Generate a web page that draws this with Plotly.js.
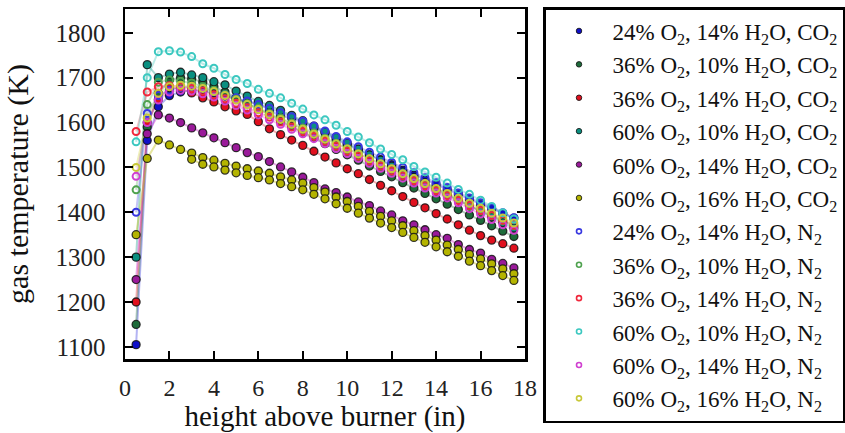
<!DOCTYPE html>
<html>
<head>
<meta charset="utf-8">
<script src="https://cdn.plot.ly/plotly-3.0.1.min.js"></script>
<style>html,body{margin:0;padding:0;background:#fff;} #chart{width:845px;height:433px;}</style>
</head>
<body>
<div id="chart"></div>
<script>
// heights above burner (in)
const height = [0.5,1,1.5,2,2.5,3,3.5,4,4.5,5,5.5,6,6.5,7,7.5,8,8.5,9,9.5,10,10.5,11,11.5,12,12.5,13,13.5,14,14.5,15,15.5,16,16.5,17,17.5];
const heightRepeat = [3,3.5,4,4.5,5,5.5,6,6.5,7,7.5,8,8.5,9,9.5,10,10.5,11,11.5,12,12.5,13,13.5,14,14.5,15,15.5,16,16.5,17,17.5];

// gas temperature (K), CO2 diluent (filled)
const co2_24_14 = [1105,1560,1635,1660,1668,1672,1670,1666,1659,1652,1647,1642,1628,1614,1610,1599,1588,1577,1562,1550,1539,1528,1517,1506,1494,1483,1472,1461,1450,1440,1429,1418,1408,1397,1387];
const co2_36_10 = [1150,1590,1665,1695,1700,1697,1690,1680,1668,1655,1643,1630,1618,1604,1591,1578,1566,1553,1540,1528,1516,1503,1491,1479,1466,1454,1442,1430,1418,1406,1394,1382,1370,1358,1346];
const co2_36_14 = [1200,1600,1651,1678,1676,1666,1655,1646,1635,1626,1618,1602,1586,1573,1561,1549,1536,1523,1510,1497,1486,1473,1460,1448,1435,1422,1410,1397,1385,1372,1360,1348,1338,1330,1320];
const co2_60_10 = [1300,1729,1700,1708,1712,1706,1700,1691,1684,1670,1659,1647,1638,1627,1616,1604,1592,1579,1567,1554,1541,1528,1516,1503,1490,1478,1466,1453,1440,1428,1415,1402,1390,1377,1365];
const co2_60_14 = [1250,1575,1617,1610,1600,1588,1577,1566,1555,1544,1533,1524,1513,1501,1490,1478,1466,1452,1444,1434,1423,1415,1403,1394,1381,1372,1361,1350,1342,1328,1317,1309,1295,1286,1276];
const co2_60_16 = [1350,1520,1561,1550,1540,1532,1522,1516,1509,1503,1497,1492,1487,1479,1472,1465,1455,1445,1434,1424,1413,1402,1391,1381,1370,1359,1348,1338,1327,1317,1306,1296,1285,1274,1263];
const co2_60_16_repeat = [1518,1507,1501,1494,1488,1482,1477,1472,1464,1457,1450,1440,1430,1419,1409,1398,1387,1376,1366,1355,1344,1333,1323,1312,1302,1291,1281,1270,1259,1248];

// gas temperature (K), N2 diluent (open)
const n2_24_14 = [1400,1620,1660,1672,1678,1680,1676,1670,1662,1655,1648,1640,1632,1622,1613,1603,1592,1581,1569,1557,1546,1534,1523,1511,1500,1488,1477,1466,1455,1443,1432,1421,1410,1399,1388];
const n2_36_10 = [1450,1640,1690,1695,1692,1688,1680,1672,1662,1652,1642,1632,1620,1610,1599,1588,1577,1565,1554,1542,1531,1519,1508,1496,1485,1473,1462,1450,1439,1427,1414,1403,1392,1381,1370];
const n2_36_14 = [1580,1668,1680,1682,1680,1676,1670,1662,1653,1643,1633,1622,1612,1601,1590,1580,1569,1558,1547,1536,1525,1514,1503,1492,1481,1470,1459,1448,1437,1426,1415,1404,1393,1382,1371];
const n2_60_10 = [1557,1700,1758,1760,1757,1747,1731,1721,1707,1696,1687,1674,1665,1655,1643,1630,1617,1606,1594,1580,1568,1555,1541,1529,1517,1502,1490,1478,1465,1451,1440,1427,1413,1399,1385];
const n2_60_14 = [1480,1600,1650,1668,1672,1670,1664,1657,1648,1638,1628,1617,1606,1596,1585,1575,1564,1553,1542,1531,1520,1509,1498,1487,1476,1465,1454,1443,1432,1421,1408,1396,1384,1372,1360];
const n2_60_16 = [1500,1610,1665,1680,1683,1681,1676,1669,1660,1650,1640,1629,1618,1607,1596,1585,1574,1563,1552,1541,1530,1519,1508,1497,1486,1475,1464,1453,1442,1431,1420,1409,1398,1387,1376];

const labels = [
  "24% O<sub>2</sub>, 14% H<sub>2</sub>O, CO<sub>2</sub>",
  "36% O<sub>2</sub>, 10% H<sub>2</sub>O, CO<sub>2</sub>",
  "36% O<sub>2</sub>, 14% H<sub>2</sub>O, CO<sub>2</sub>",
  "60% O<sub>2</sub>, 10% H<sub>2</sub>O, CO<sub>2</sub>",
  "60% O<sub>2</sub>, 14% H<sub>2</sub>O, CO<sub>2</sub>",
  "60% O<sub>2</sub>, 16% H<sub>2</sub>O, CO<sub>2</sub>",
  "24% O<sub>2</sub>, 14% H<sub>2</sub>O, N<sub>2</sub>",
  "36% O<sub>2</sub>, 10% H<sub>2</sub>O, N<sub>2</sub>",
  "36% O<sub>2</sub>, 14% H<sub>2</sub>O, N<sub>2</sub>",
  "60% O<sub>2</sub>, 10% H<sub>2</sub>O, N<sub>2</sub>",
  "60% O<sub>2</sub>, 14% H<sub>2</sub>O, N<sub>2</sub>",
  "60% O<sub>2</sub>, 16% H<sub>2</sub>O, N<sub>2</sub>"
];
const xTicks = [0,2,4,6,8,10,12,14,16,18];
const yTicks = [1100,1200,1300,1400,1500,1600,1700,1800];

const filledColors = ["#1010c8","#1d6b3a","#e0101e","#0a8f80","#9a1a9a","#b4b400"];
const openColors   = ["#3838e0","#4fa24f","#f0283c","#3cc8c0","#d040d0","#c8c83a"];
const lineAlpha = ["rgba(40,40,220,0.35)","rgba(30,110,60,0.35)","rgba(230,30,40,0.35)","rgba(10,150,130,0.35)","rgba(200,40,200,0.4)","rgba(200,200,40,0.45)"];
const lineAlphaOpen = ["rgba(60,60,230,0.3)","rgba(80,170,80,0.3)","rgba(240,60,80,0.3)","rgba(60,200,190,0.35)","rgba(210,70,210,0.3)","rgba(210,210,60,0.35)"];

const co2Sets = [co2_24_14,co2_36_10,co2_36_14,co2_60_10,co2_60_14,co2_60_16];
const n2Sets = [n2_24_14,n2_36_10,n2_36_14,n2_60_10,n2_60_14,n2_60_16];

const lineTraces = [], markerTraces = [], legendTraces = [];
const edge = 'rgba(20,20,20,0.85)';
co2Sets.forEach((ys,i)=>{
  lineTraces.push({x:height,y:ys,type:'scatter',mode:'lines',showlegend:false,line:{color:lineAlpha[i],width:2}});
  markerTraces.push({x:height,y:ys,type:'scatter',mode:'markers',showlegend:false,
    marker:{symbol:'circle',size:8,color:filledColors[i],line:{color:edge,width:1.3}}});
  legendTraces.push({x:[null],y:[null],type:'scatter',mode:'markers',name:labels[i],legendgroup:'c'+i,
    marker:{symbol:'circle',size:5.5,color:filledColors[i],line:{color:edge,width:1}}});
});
lineTraces.push({x:heightRepeat,y:co2_60_16_repeat,type:'scatter',mode:'lines',showlegend:false,line:{color:lineAlpha[5],width:2}});
markerTraces.push({x:heightRepeat,y:co2_60_16_repeat,type:'scatter',mode:'markers',showlegend:false,
  marker:{symbol:'circle',size:8,color:filledColors[5],line:{color:edge,width:1.3}}});
n2Sets.forEach((ys,i)=>{
  lineTraces.push({x:height,y:ys,type:'scatter',mode:'lines',showlegend:false,line:{color:lineAlphaOpen[i],width:2}});
  markerTraces.push({x:height,y:ys,type:'scatter',mode:'markers',showlegend:false,
    marker:{symbol:'circle-open',size:7,color:openColors[i],line:{width:2}}});
  legendTraces.push({x:[null],y:[null],type:'scatter',mode:'markers',name:labels[6+i],legendgroup:'n'+i,
    marker:{symbol:'circle-open',size:5,color:openColors[i],line:{width:1.6}}});
});

const serif = "Liberation Serif, Times New Roman, serif";
const layout = {
  width:845,height:433,
  paper_bgcolor:'#fff',plot_bgcolor:'#fff',
  margin:{l:125,r:320,t:9,b:74,autoexpand:false},
  font:{family:serif,color:'#000'},
  showlegend:true,
  legend:{x:543/845,xref:'container',xanchor:'left',y:1-7/433,yref:'container',yanchor:'top',
    bordercolor:'#000',borderwidth:2.5,bgcolor:'#fff',font:{family:serif,size:23,color:'#111'},
    tracegroupgap:0.5,traceorder:'grouped',itemwidth:57,maxheight:440},
  xaxis:{range:[0,18],tickvals:xTicks,ticktext:xTicks.map(String),ticks:'inside',ticklen:8,tickwidth:2,tickcolor:'#000',
    showline:true,linewidth:2.5,linecolor:'#000',mirror:'ticks',showgrid:false,zeroline:false,
    tickfont:{family:serif,size:24,color:'#222'},ticklabelstandoff:6,
    title:{text:'height above burner (in)',font:{family:serif,size:29,color:'#111'},standoff:8}},
  yaxis:{range:[1073,1853],tickvals:yTicks,ticktext:yTicks.map(String),ticks:'inside',ticklen:8,tickwidth:2,tickcolor:'#000',
    showline:true,linewidth:2.5,linecolor:'#000',mirror:'ticks',showgrid:false,zeroline:false,
    tickfont:{family:serif,size:25,color:'#222'},ticklabelstandoff:12,
    title:{text:'gas temperature (K)',font:{family:serif,size:30,color:'#111'},standoff:18}}
};
Plotly.newPlot('chart',lineTraces.concat(markerTraces).concat(legendTraces),layout,{staticPlot:true,displayModeBar:false});
</script>
</body>
</html>
